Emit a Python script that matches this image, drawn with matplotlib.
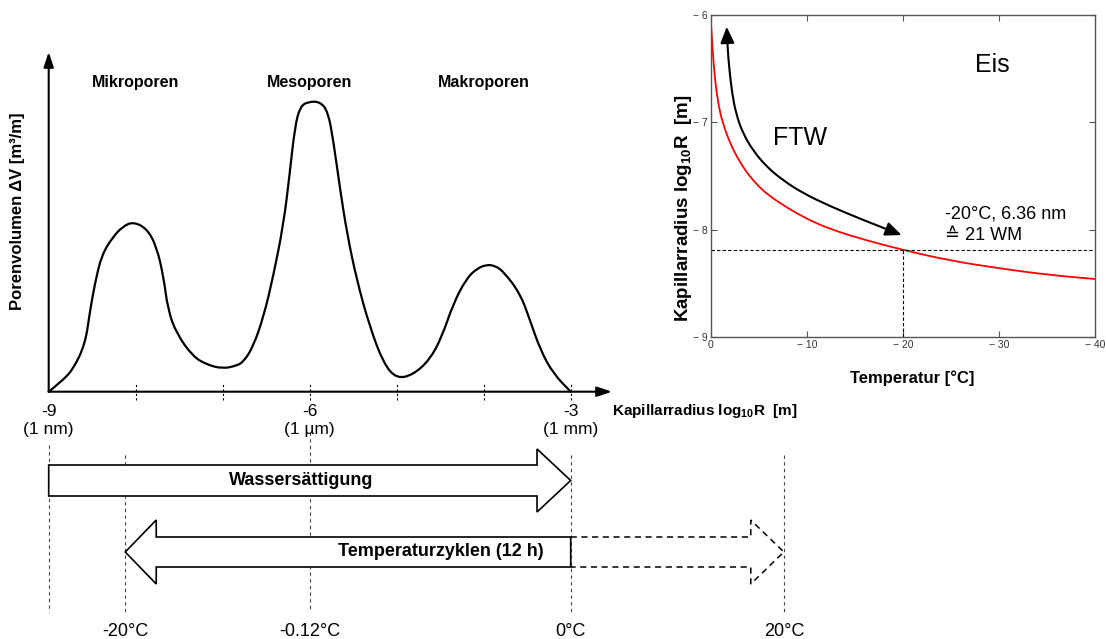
import matplotlib
matplotlib.use('Agg')
import matplotlib.pyplot as plt
import numpy as np
from matplotlib.patches import Polygon, FancyArrowPatch, PathPatch
from matplotlib.path import Path

plt.rcParams['font.family'] = ['Liberation Sans', 'DejaVu Sans']
plt.rcParams['mathtext.fontset'] = 'custom'
plt.rcParams['mathtext.rm'] = 'Liberation Sans'
plt.rcParams['mathtext.bf'] = 'Liberation Sans:bold'

# ---------------- data ----------------
# pore size distribution (log10 R [m] vs. relative pore volume)
pore_logR = [-9.0, -8.87, -8.72, -8.58, -8.53, -8.47, -8.39, -8.26, -8.15, -8.03,
             -7.87, -7.76, -7.68, -7.63, -7.53, -7.34, -7.18, -7.0, -6.84, -6.76,
             -6.65, -6.53, -6.42, -6.30, -6.23, -6.17, -6.11, -6.02, -5.88, -5.79,
             -5.73, -5.65, -5.57, -5.46, -5.31, -5.15, -5.0, -4.81, -4.62, -4.48,
             -4.35, -4.20, -4.08, -3.97, -3.87, -3.77, -3.58, -3.47, -3.35, -3.20, -3.0]
pore_volume = [0, 9, 22, 48, 78, 108, 137, 155, 165, 170,
               163, 145, 115, 82, 58, 35, 27, 23, 26, 30,
               45, 75, 115, 168, 218, 265, 285, 290, 290, 280,
               252, 202, 158, 112, 65, 28, 13, 17, 32, 55,
               88, 113, 123, 127, 126, 120, 98, 72, 42, 18, 0]
minor_ticks = [-8, -7, -6, -5, -4, -3]
major_ticks = [-9, -6, -3]
major_sub = ['(1 nm)', '(1 µm)', '(1 mm)']
class_names = ['Mikroporen', 'Mesoporen', 'Makroporen']
class_logR = [-8, -6, -4]

# capillary radius vs. temperature
temp_C = [0, -0.15, -0.4, -0.8, -1.2, -2, -3, -4, -5, -6, -8, -10, -12, -15,
          -20, -25, -30, -35, -40]
cap_logR = [-6.08, -6.3, -6.6, -6.85, -7.0, -7.2, -7.37, -7.5, -7.6, -7.68, -7.8,
            -7.9, -7.98, -8.07, -8.19, -8.29, -8.36, -8.42, -8.46]
ftw_T = [-1.64, -1.74, -1.92, -2.20, -2.61, -3.31, -4.36, -5.75, -7.49, -9.58,
         -12.37, -15.85, -19.86]
ftw_logR = [-6.11, -6.33, -6.51, -6.73, -6.92, -7.10, -7.26, -7.41, -7.54, -7.66,
            -7.78, -7.91, -8.05]
mark_T = -20
mark_logR = -8.19
xt_vals = [0, -10, -20, -30, -40]
xt_labels = ['0', '\u2212 10', '\u2212 20', '\u2212 30', '\u2212 40']
yt_vals = [-6, -7, -8, -9]
yt_labels = ['\u2212 6', '\u2212 7', '\u2212 8', '\u2212 9']

# schematic bottom part
temp_labels = ['-20°C', '-0.12°C', '0°C', '20°C']
temp_logR = [-8.12, -6.0, -3.0, -0.55]
sat_start, sat_end = -9.0, -3.0
cyc_start, cyc_end, cyc_ext = -3.0, -8.12, -0.55


def smooth_path(xs, ys):
    """Quadratic Bezier path through the midpoints, data points as controls."""
    pts = np.column_stack([xs, ys]).astype(float)
    verts = [pts[0]]
    codes = [Path.MOVETO]
    for i in range(1, len(pts) - 1):
        verts += [pts[i], (pts[i] + pts[i + 1]) / 2]
        codes += [Path.CURVE3, Path.CURVE3]
    verts.append(pts[-1])
    codes.append(Path.LINETO)
    return Path(verts, codes)


# ---------------- figure ----------------
W, H = 1106, 639
fig = plt.figure(figsize=(W / 100, H / 100), dpi=100)


def fy(py):
    return 1 - py / H


PX = 87.0          # pixels per decade
X0 = 48.7          # pixel of log R = -9
AX_Y = 391.7       # pixel of x-axis

# bottom schematic axes (whole figure, pixel y)
ax3 = fig.add_axes([0, 0, 1, 1])
ax3.set_xlim(-9 - X0 / PX, -9 + (W - X0) / PX)
ax3.set_ylim(H, 0)
ax3.axis('off')
ax3.patch.set_alpha(0)

line_tops = {-9.0: 445, -6.0: 432}
for v in [-9.0] + temp_logR:
    ax3.plot([v, v], [line_tops.get(v, 455), 612], color='#444444', lw=0.8,
             ls=(0, (3, 3)))

# Wassersättigung arrow
yc, bh, hh, hl = 480.5, 15.5, 31.5, 0.387
sat = [(sat_start, yc - bh), (sat_end - hl, yc - bh), (sat_end - hl, yc - hh),
       (sat_end, yc), (sat_end - hl, yc + hh), (sat_end - hl, yc + bh),
       (sat_start, yc + bh)]
ax3.add_patch(Polygon(sat, closed=True, fc='white', ec='black', lw=1.2, zorder=3))
ax3.text((sat_start + sat_end - hl) / 2 + 0.1, yc, 'Wassersättigung', ha='center',
         va='center', fontsize=13, fontweight='bold', zorder=4)

# Temperaturzyklen arrow
yc, bh, hh, hl = 552, 15, 32, 0.356
cyc = [(cyc_start, yc - bh), (cyc_end + hl, yc - bh), (cyc_end + hl, yc - hh),
       (cyc_end, yc), (cyc_end + hl, yc + hh), (cyc_end + hl, yc + bh),
       (cyc_start, yc + bh)]
ax3.add_patch(Polygon(cyc, closed=True, fc='white', ec='black', lw=1.2, zorder=3))
hl2 = 0.38
ext = [(cyc_start, yc - bh), (cyc_ext - hl2, yc - bh), (cyc_ext - hl2, yc - hh),
       (cyc_ext, yc), (cyc_ext - hl2, yc + hh), (cyc_ext - hl2, yc + bh),
       (cyc_start, yc + bh)]
ax3.add_patch(Polygon(ext, closed=False, fc='none', ec='black', lw=1.1,
                      ls=(0, (4, 3)), zorder=3))
ax3.text(-4.49, yc, 'Temperaturzyklen (12 h)', ha='center', va='center',
         fontsize=13, fontweight='bold', zorder=4)

for lab, v in zip(temp_labels, temp_logR):
    ax3.text(v, 632, lab, ha='center', va='center', fontsize=13)

# ---------------- pore size distribution ----------------
top_px = 52
right_px = 612
ax1 = fig.add_axes([X0 / W, fy(AX_Y), (right_px - X0) / W, (AX_Y - top_px) / H])
ax1.set_xlim(-9, -9 + (right_px - X0) / PX)
ax1.set_ylim(0, AX_Y - top_px)
ax1.axis('off')
ax1.add_patch(PathPatch(smooth_path(pore_logR, pore_volume), fc='none',
                        ec='black', lw=1.6, clip_on=False, capstyle='round',
                        joinstyle='round'))
arrow_kw = dict(arrowstyle='-|>,head_length=0.9,head_width=0.3', lw=1.5,
                color='black', shrinkA=0, shrinkB=0)
ax1.annotate('', xy=(1, 0), xytext=(0, 0), xycoords='axes fraction',
             arrowprops=arrow_kw)
ax1.annotate('', xy=(0, 1), xytext=(0, 0), xycoords='axes fraction',
             arrowprops=arrow_kw)
ax1.vlines(minor_ticks, -8, 8, colors='black', linestyles=(0, (2, 2)), lw=0.8,
           clip_on=False)
for v, sub in zip(major_ticks, major_sub):
    ax1.text(v, -20, f'{v}', ha='center', va='center', fontsize=12.5, clip_on=False)
    ax1.text(v, -38, sub, ha='center', va='center', fontsize=12.5, clip_on=False)
for name, v in zip(class_names, class_logR):
    ax1.text(v, AX_Y - 82, name, ha='center', va='center', fontsize=11.5,
             fontweight='bold')
fig.text(612 / W, fy(411), 'Kapillarradius log$_{\\mathbf{10}}$R  [m]', ha='left',
         va='center', fontsize=11, fontweight='bold')
fig.text(18 / W, fy(211), 'Porenvolumen ΔV [m³/m]', rotation=90, ha='center',
         va='center', fontsize=12, fontweight='bold')

# ---------------- capillary radius vs temperature ----------------
ax2 = fig.add_axes([711 / W, fy(337), 384 / W, 322 / H])
ax2.set_xlim(0, -40)
ax2.set_ylim(-9, -6)
ax2.add_patch(PathPatch(smooth_path(temp_C, cap_logR), fc='none', ec='red',
                        lw=1.3))
ax2.axhline(mark_logR, color='black', lw=0.8, ls=(0, (3, 2)))
ax2.plot([mark_T, mark_T], [-9, mark_logR], color='black', lw=0.8, ls=(0, (3, 2)))
ftw = FancyArrowPatch(path=smooth_path(ftw_T, ftw_logR),
                      arrowstyle='<|-|>,head_length=0.7,head_width=0.3',
                      mutation_scale=14, lw=1.5, color='black',
                      transform=ax2.transData)
ax2.add_patch(ftw)
ax2.set_xticks(xt_vals)
ax2.set_xticklabels(xt_labels)
ax2.set_yticks(yt_vals)
ax2.set_yticklabels(yt_labels)
ax2.tick_params(direction='in', top=True, right=True, length=4, width=0.8,
                color='#555555', labelsize=7.5, labelcolor='#333333', pad=2.5)
for s in ax2.spines.values():
    s.set_color('#555555')
    s.set_linewidth(1.0)
ax2.text(-29.3, -6.47, 'Eis', ha='center', va='center', fontsize=18)
ax2.text(-9.23, -7.15, 'FTW', ha='center', va='center', fontsize=18)
ax2.text(-24.4, -7.85, '-20°C, 6.36 nm', ha='left', va='center', fontsize=13)
ax2.text(-24.4, -8.05, '≙ 21 WM', ha='left', va='center', fontsize=13)
fig.text(912 / W, fy(378), 'Temperatur [°C]', ha='center', va='center',
         fontsize=12, fontweight='bold')
fig.text(683 / W, fy(208), 'Kapillarradius log$_{\\mathbf{10}}$R  [m]',
         rotation=90, ha='center', va='center', fontsize=13.5, fontweight='bold')

fig.savefig('out.png', dpi=100)
